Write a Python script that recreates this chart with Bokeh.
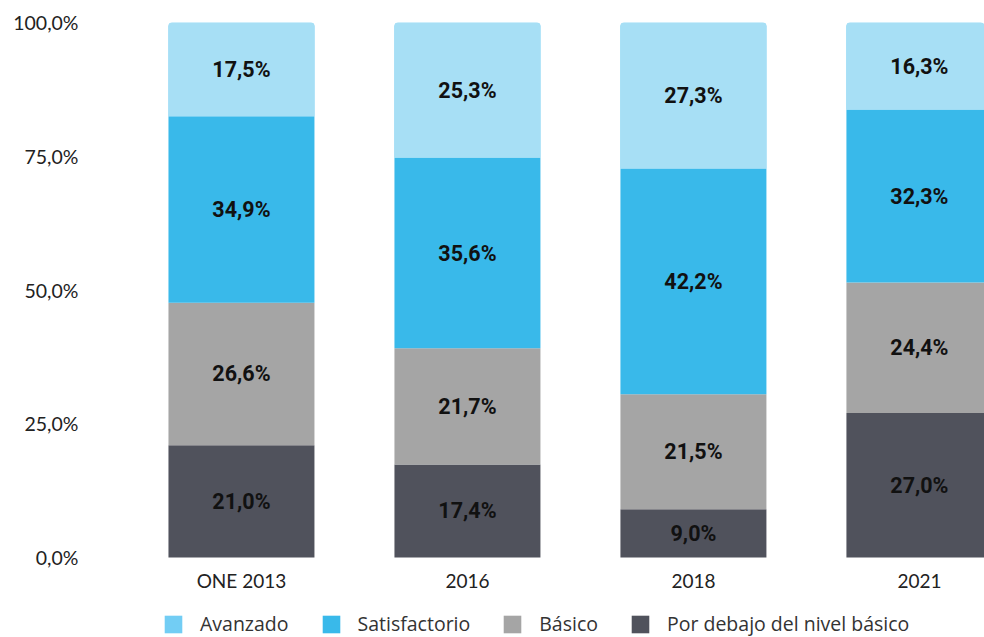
from bokeh.plotting import figure
from bokeh.models import ColumnDataSource, Legend, LegendItem, FixedTicker, Range1d
from bokeh.core.properties import value
from bokeh.embed import file_html
from bokeh.resources import INLINE

categories = ["ONE 2013", "2016", "2018", "2021"]
por_debajo = [21.0, 17.4, 9.0, 27.0]
basico = [26.6, 21.7, 21.5, 24.4]
satisfactorio = [34.9, 35.6, 42.2, 32.3]
avanzado = [17.5, 25.3, 27.3, 16.3]
series_names = ["Avanzado", "Satisfactorio", "Básico", "Por debajo del nivel básico"]
y_ticks = [0, 25, 50, 75, 100]
y_tick_labels = ["0,0%", "25,0%", "50,0%", "75,0%", "100,0%"]

# bottom -> top stacking order
bar_colors = ["#50525C", "#A5A5A5", "#39B9EA", "#A7DFF5"]
legend_colors = ["#50525C", "#A5A5A5", "#39B9EA", "#72CDF4"]

W, H = 984, 637
# frame spans y 22..637; value 0 sits at y=557, value 100 at y=22
y_start = -(H - 557) / ((557 - 22) / 100.0)
p = figure(width=W, height=H, output_backend="svg", toolbar_location=None,
           x_range=Range1d(-0.668, 3.288), y_range=Range1d(y_start, 100),
           min_border_left=90, min_border_right=0, min_border_top=22, min_border_bottom=0)
p.outline_line_color = None
p.grid.grid_line_color = None
p.xaxis.visible = False

xs = list(range(len(categories)))
stack = [por_debajo, basico, satisfactorio, avanzado]
names_bottom_up = series_names[::-1]
bottoms = [0.0] * len(categories)
legend_renderers = {}
text_sources = []
for i, vals in enumerate(stack):
    tops = [b + v for b, v in zip(bottoms, vals)]
    mids = [(b + t) / 2 for b, t in zip(bottoms, tops)]
    labels = [f"{v:.1f}".replace(".", ",") + "%" for v in vals]
    src = ColumnDataSource(dict(x=xs, bottom=bottoms, top=tops, mid=mids, label=labels))
    kw = {}
    if i == len(stack) - 1:
        kw["border_radius"] = (4, 4, 0, 0)
    if legend_colors[i] != bar_colors[i]:
        lr = p.vbar(x="x", bottom="bottom", top="top", width=0.646, source=src,
                    fill_color=legend_colors[i], line_color=None, **kw)
    p_r = p.vbar(x="x", bottom="bottom", top="top", width=0.646, source=src,
                 fill_color=bar_colors[i], line_color=None, **kw)
    if legend_colors[i] == bar_colors[i]:
        lr = p_r
    legend_renderers[names_bottom_up[i]] = lr
    text_sources.append(src)
    bottoms = tops

for src in text_sources:
    p.text(x="x", y="mid", text="label", source=src, text_align="center",
           text_baseline="middle", text_font=value("Roboto"), text_font_style="bold",
           text_font_size="21.5px", text_color="#111111")

# category labels under the bars (x axis)
cat_src = ColumnDataSource(dict(x=xs, y=[0] * len(xs), label=categories))
p.text(x="x", y="y", text="label", source=cat_src, text_align="center",
       text_baseline="middle", y_offset=23, text_font=value("Lato"),
       text_font_size="19px", text_color="#222222")

# y axis
p.yaxis.ticker = FixedTicker(ticks=y_ticks)
p.yaxis.major_label_overrides = {t: l for t, l in zip(y_ticks, y_tick_labels)}
p.yaxis.axis_line_color = None
p.yaxis.major_tick_line_color = None
p.yaxis.minor_tick_line_color = None
p.yaxis.major_label_standoff = 6
p.yaxis.major_label_text_font = "Lato"
p.yaxis.major_label_text_font_size = "19.5px"
p.yaxis.major_label_text_color = "#222222"

items = [LegendItem(label=n, renderers=[legend_renderers[n]]) for n in series_names]
legend = Legend(items=items, orientation="horizontal", location=(72, 0),
                label_text_font="Open Sans", label_text_font_size="19.5px",
                label_text_color="#333333", glyph_width=22, glyph_height=22,
                label_standoff=16, spacing=31, padding=0, margin=0,
                border_line_color=None, background_fill_alpha=0)
p.add_layout(legend, "center")

open("out.html", "w").write(file_html(p, INLINE))
